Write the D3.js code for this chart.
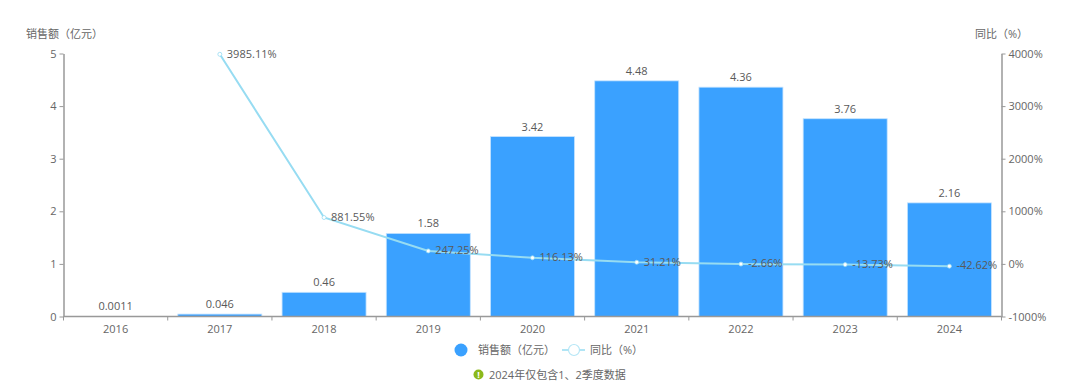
<!DOCTYPE html>
<html lang="en">
<head>
    <meta charset="UTF-8">
    <title>销售额</title>
    <script src="https://cdn.jsdelivr.net/npm/d3@7"></script>
    <style>
        html, body { margin:0; padding:0; background:#fff; }
        svg { display:block; }
        text { font-family:"Open Sans","Noto Sans CJK SC",sans-serif; }
        .axis text { font-size:11px; fill:#666; }
        .axis path, .axis line { stroke:#999; }
        .axis path { stroke-width:1.5; }
    </style>
</head>
<body>
<svg width="1080" height="384"></svg>
<script>
    var years = ['2016','2017','2018','2019','2020','2021','2022','2023','2024'];
    var sales = [0.0011,0.046,0.46,1.58,3.42,4.48,4.36,3.76,2.16];
    var salesLabels = ['0.0011','0.046','0.46','1.58','3.42','4.48','4.36','3.76','2.16'];
    var yoyYears = ['2017','2018','2019','2020','2021','2022','2023','2024'];
    var yoy = [3985.11,881.55,247.25,116.13,31.21,-2.66,-13.73,-42.62];
    var salesTicks = [0,1,2,3,4,5];
    var yoyTicks = [-1000,0,1000,2000,3000,4000];

    var svg = d3.select('svg'),
        margin = {top:53.5,right:78.5,bottom:67.5,left:63.5},
        width = +svg.attr('width') - margin.left - margin.right,
        height = +svg.attr('height') - margin.top - margin.bottom,
        g = svg.append('g').attr('transform','translate('+ margin.left +','+ margin.top +')');

    var x = d3.scaleBand().domain(years).range([0,width]).paddingInner(.194).paddingOuter(.097);
    var y = d3.scaleLinear().domain([0,5]).range([height,0]);
    var y2 = d3.scaleLinear().domain([-1000,4000]).range([height,0]);
    var cx = function(d){ return x(d) + x.bandwidth()/2; };

    // bars
    g.append('g').selectAll('rect')
        .data(years)
        .enter().append('rect')
        .attr('x',function(d){ return x(d); })
        .attr('y',function(d,i){ return y(sales[i]); })
        .attr('width',x.bandwidth())
        .attr('height',function(d,i){ return height - y(sales[i]); })
        .attr('fill','#3aa1ff')
        .attr('stroke','#c4e3ff')
        .attr('stroke-width',.8);

    // axes: x ticks sit on the band edges, so draw them by hand
    var xAxis = g.append('g').attr('class','axis').attr('transform','translate(0,'+ height +')');
    xAxis.call(d3.axisBottom(x).tickSize(0).tickPadding(9));
    xAxis.select('.domain').remove();
    xAxis.append('line').attr('x1',0).attr('x2',width).attr('stroke-width',1.5);
    xAxis.selectAll('.edge')
        .data(d3.range(years.length + 1))
        .enter().append('line')
        .attr('class','edge')
        .attr('x1',function(i){ return width*i/years.length; })
        .attr('x2',function(i){ return width*i/years.length; })
        .attr('y2',4);

    g.append('g').attr('class','axis')
        .call(d3.axisLeft(y).tickValues(salesTicks).tickSize(4).tickSizeOuter(0).tickPadding(3).tickFormat(d3.format('d')));
    g.append('g').attr('class','axis')
        .attr('transform','translate('+ width +',0)')
        .call(d3.axisRight(y2).tickValues(yoyTicks).tickSize(4).tickSizeOuter(0).tickPadding(3).tickFormat(function(d){ return d + '%'; }));

    // axis titles
    svg.append('text').attr('x',26).attr('y',38).attr('font-size',11).attr('fill','#666').text('销售额（亿元）');
    svg.append('text').attr('x',975).attr('y',38).attr('font-size',11).attr('fill','#666').text('同比（%）');

    // bar labels
    g.append('g').selectAll('text')
        .data(years)
        .enter().append('text')
        .attr('x',cx)
        .attr('y',function(d,i){ return y(sales[i]) - 6; })
        .attr('text-anchor','middle')
        .attr('font-size',11)
        .attr('fill','#595959')
        .text(function(d,i){ return salesLabels[i]; });

    // yoy line
    var line = d3.line()
        .x(function(d){ return cx(d); })
        .y(function(d,i){ return y2(yoy[i]); });
    g.append('path')
        .datum(yoyYears)
        .attr('d',line)
        .attr('fill','none')
        .attr('stroke','#97dcf2')
        .attr('stroke-width',2);
    g.append('g').selectAll('circle')
        .data(yoyYears)
        .enter().append('circle')
        .attr('cx',cx)
        .attr('cy',function(d,i){ return y2(yoy[i]); })
        .attr('r',2)
        .attr('fill','#fff')
        .attr('stroke','#97dcf2')
        .attr('stroke-width',.8);
    g.append('g').selectAll('text')
        .data(yoyYears)
        .enter().append('text')
        .attr('x',function(d){ return cx(d) + 7; })
        .attr('y',function(d,i){ return y2(yoy[i]); })
        .attr('dy','.3em')
        .attr('font-size',11)
        .attr('fill','#595959')
        .text(function(d,i){ return yoy[i].toFixed(2) + '%'; });

    // legend
    var legend = svg.append('g').attr('font-size',11).attr('fill','#666');
    legend.append('circle').attr('cx',461).attr('cy',350).attr('r',6.5).attr('fill','#3aa1ff');
    legend.append('text').attr('x',478).attr('y',354).text('销售额（亿元）');
    legend.append('line').attr('x1',562).attr('x2',585).attr('y1',350).attr('y2',350)
        .attr('stroke','#97dcf2').attr('stroke-width',1.5);
    legend.append('circle').attr('cx',574).attr('cy',350).attr('r',5.5)
        .attr('fill','#fff').attr('stroke','#b5e6f6').attr('stroke-width',1.2);
    legend.append('text').attr('x',590).attr('y',354).text('同比（%）');

    // note
    svg.append('circle').attr('cx',478.5).attr('cy',374.5).attr('r',5).attr('fill','#8cb91b');
    svg.append('text').attr('x',478.5).attr('y',378).attr('text-anchor','middle')
        .attr('font-size',9).attr('font-weight','bold').attr('fill','#fff').text('!');
    svg.append('text').attr('x',489).attr('y',378.5).attr('font-size',11).attr('fill','#666')
        .text('2024年仅包含1、2季度数据');
</script>
</body>
</html>
